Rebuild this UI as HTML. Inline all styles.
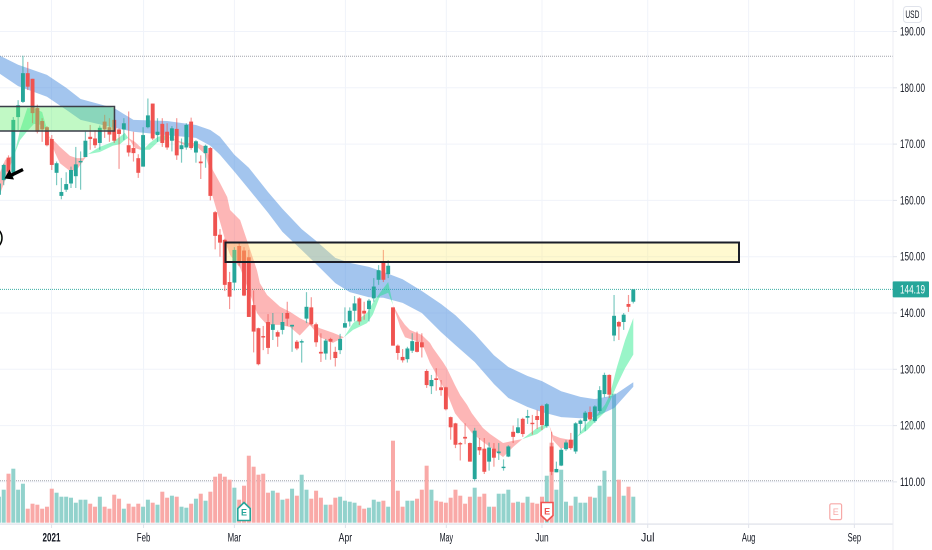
<!DOCTYPE html>
<html lang="en">
<head>
<meta charset="utf-8">
<title>USD price chart</title>
<style>
html,body{margin:0;padding:0;background:#fff;}
#chart{display:block;width:932px;height:550px;font-family:"Liberation Sans",sans-serif;filter:blur(0.35px);}
</style>
</head>
<body>
<svg id="chart" xmlns="http://www.w3.org/2000/svg" width="932" height="550" viewBox="0 0 932 550">
  <defs><clipPath id="plot-clip"><rect x="0" y="0" width="892.5" height="524"/></clipPath></defs>
  <rect x="0" y="0" width="932" height="550" fill="#ffffff"/>
  <g id="grid"></g>
  <g id="levels"></g>
  <g clip-path="url(#plot-clip)">
    <g id="volume"></g>
    <g id="bands"></g>
    <g id="candles"></g>
    <rect x="-3" y="106.5" width="117.5" height="24.5" fill="rgba(100,240,110,0.4)" stroke="#3a3d48" stroke-width="1.5"/>
    <rect x="225.5" y="242.5" width="513.5" height="19.5" fill="rgba(255,235,100,0.3)" stroke="#1a1d28" stroke-width="2"/>
    <g>
      <line x1="23" y1="169.5" x2="10" y2="175.8" stroke="#000" stroke-width="3.4"/>
      <polygon points="4.5,178.5 9.5,169.5 14,179.5" fill="#000"/>
    </g>
    <circle cx="-9.5" cy="238" r="11.5" fill="rgba(150,250,150,0.15)" stroke="#000" stroke-width="1.5"/>
  </g>
  <g id="earnings">
    <g>
      <polygon points="237.8,508.5 244,502.5 250.2,508.5 250.2,520.5 237.8,520.5" fill="#fff" stroke="#26a69a" stroke-width="1.6"/>
      <text x="244" y="515.5" font-size="9" font-weight="bold" fill="#26a69a" text-anchor="middle">E</text>
    </g>
    <g>
      <polygon points="541.2,502.5 553,502.5 553,515.5 547.1,521 541.2,515.5" fill="#fff" stroke="#ef5350" stroke-width="1.6"/>
      <text x="547.1" y="514.5" font-size="9" font-weight="bold" fill="#ef5350" text-anchor="middle">E</text>
    </g>
    <g>
      <rect x="829.8" y="503.8" width="11.8" height="15.8" rx="1.5" fill="#fff" stroke="#f7a9a7" stroke-width="1.2"/>
      <text x="835.7" y="515" font-size="9" fill="#f7a9a7" text-anchor="middle">E</text>
    </g>
  </g>
  <g id="axes"></g>
  <g>
    <rect x="903.5" y="6.5" width="18" height="16" rx="3" fill="#fff" stroke="#e0e3eb"/>
    <text x="905.4" y="18.2" font-size="11" fill="#131722" textLength="14" lengthAdjust="spacingAndGlyphs">USD</text>
  </g>
</svg>
<script>
// ---- chart data ----
const priceTicks = [190, 180, 170, 160, 150, 140, 130, 120, 110];
const timeLabels = ['2021', 'Feb', 'Mar', 'Apr', 'May', 'Jun', 'Jul', 'Aug', 'Sep'];
// bar position of each time tick (trading-bar index, extended past the last bar)
const timeTickBars = [10.95, 30.1, 49.0, 72.1, 93.1, 113, 135, 156, 178];
const lastPrice = 144.19;
const seriesHigh = 185.6;
const seriesLow = 110.2;

const opens = [
161,163.6,167.6,164.9,174.8,177.5,182.6,181.6,176.4,174.1,
173,170.9,164.9,160.8,161.9,163,164.3,166.8,167.7,171.3,
171,170.2,174,173,174.3,172.6,172.6,169.8,169.3,167.5,
166,173,177.2,171.6,173.6,172.2,170.6,172.7,169.1,169.4,
174,168.5,166.9,168.4,169.3,157.9,153.9,153,145.5,145.4,
151.9,151.1,149.9,141.4,137.3,135.9,138.4,137,136.6,137,
140,137.6,134.9,134.8,139,141,138,133.1,132.8,135.4,
133.1,133.4,137.4,138.5,140.4,142.6,140.4,140.7,142.6,145.9,
149.1,146.9,141,134.2,132.2,131.8,133.3,134.9,134.8,129.7,
127,128.4,126.8,126.8,121.5,120.4,116.9,118,116.9,110.5,
116.2,115.9,113.6,115.9,115.1,112.5,114.5,118.9,118.7,121.2,
121.4,120.5,121.7,123.5,119.9,116.3,111.7,112.9,115.8,117.5,
115.4,120.3,120.8,122.4,120.8,122.6,125.6,129,136,138.4,
138.4,141.6,142];
const highs = [
164,166.5,168,174.8,177.8,185.7,184.6,181.6,177,174.6,
173.2,171.6,166.9,164,165,166,169.5,168.7,172.2,173.4,
172.5,173.3,175.2,174.6,176.7,172.8,174.6,175.8,172.2,168.2,
173,178.1,177.2,174.6,174.6,173.7,173.2,174.6,171,173.7,
174.7,170.7,168,169.9,169.5,158.1,154.9,153.2,147.3,151.7,
152.4,151.7,151.2,144,137.4,137.7,139.8,140,136.9,140,
142,137.9,135.2,135.3,143.7,142.8,138.3,136.4,135.4,135.6,
134,136.3,141,141,143,142.8,142,142.5,146.2,148.5,
151.2,149.4,141,134.4,133.6,134,136.4,136.7,136.4,130,
129,130.2,128.1,126.9,121.6,120.5,117.1,120.4,117,119.6,
117.8,117.8,117,116.9,116.9,114,116.5,120,121.3,121.4,
122.8,121.9,122.8,123.7,124,118.9,113.6,116,117.4,118.7,
120.6,121.1,122.6,123.4,123.6,127,129.4,129.1,143.2,138.6,
140,143.2,144.2];
const lows = [
160,162.7,164.8,164.2,172.5,177.3,179.6,173.7,171.9,170.4,
169.6,165.4,162.7,160.2,161.5,162.2,162.2,161.9,167.7,169,
169.3,169,171.1,170.4,170.2,165.6,170.7,167.8,166.9,164,
166,172.8,170.7,170.4,169.5,169,168.7,167.2,166.7,169,
169,166.7,163.8,165.8,160,151.3,150,143.9,140.7,144,
148.4,143,139.3,133,130.7,133.4,132.7,135.2,134,136.2,
137.7,133.1,133.4,131.2,138.2,137.8,134,131.3,131.7,131.7,
130.5,132.7,137.4,137.6,138.5,137.9,138.8,138.5,142,145,
145.5,146.2,134.2,131.7,131.2,131.2,132.9,133,132.1,126.7,
125.6,126.2,125.3,122.7,117.5,116,113.8,116.7,113.6,110.2,
114.8,111.4,112,112.7,113.9,112,114.4,116.9,118.6,118,
120.3,118.4,119.4,119.2,119.6,111.2,111.7,112.8,115.5,115.7,
115,118.7,119,120.8,120.5,122.3,125,124.9,135,135.2,
137,140.2,141.7];
const closes = [
163,166.3,165.1,174.3,176.9,182.6,180.2,175.5,172.2,172.6,
169.8,166.3,166.6,161.5,162.9,165.4,166.4,167,170.6,170.9,
169.8,172.9,172.6,171.7,170.6,171.8,173.7,168.5,168.4,164.9,
171.6,175.1,171,172.2,170.2,169.4,172.8,168,169.8,173.4,
169.3,170.5,166.6,169.7,160.8,153.7,152.5,145,142.9,151.2,
148.9,143.1,139.3,136.7,130.9,135.7,133.8,138,135.8,138.4,
139,137.9,133.7,135,141.1,138,134.8,132.8,135.1,134.9,
132,135.4,138.2,140.4,141.7,138.5,139.9,142.2,144.7,147.6,
145.9,148.4,134.2,132.9,131.6,133.7,135,133.1,133.9,127.2,
128.1,128.1,126.3,122.9,119.7,116.6,116.7,117.7,113.6,119.1,
115.6,111.8,116.1,114.3,115.4,112.7,116.3,118,119.7,118.5,
121.7,120.3,121,120.1,123.8,111.8,112.3,115.7,117,116,
120.4,120.9,122.3,121.1,123.4,126.3,129,125.5,139.5,137.6,
139.7,141.1,144.19];
const volumes = [
26,33,49,54,33,39,14,19,18,14,
16,34,30,26,26,25,20,23,23,19,
16,26,16,14,28,24,14,19,16,19,
16,23,20,18,31,25,27,26,16,15,
19,24,29,22,31,46,49,46,43,35,
23,37,67,56,48,49,30,32,30,23,
24,34,27,48,33,24,32,25,18,18,
25,26,22,21,20,17,14,15,23,21,
22,16,82,32,16,22,22,24,33,57,
33,22,21,20,25,33,27,19,26,35,
26,29,16,16,29,29,33,20,21,20,
26,20,19,26,47,80,33,53,21,17,
26,20,20,26,25,37,52,26,129,43,
27,36,26];

// long-term moving-average ribbon (sampled bars)
const ribbonBars = [0,4,10,14,17,24,28,35,41,44,46,49,52,56,59,63,66,70,73,77,80,84,88,92,95,99,103,106,110,113,117,121,124,128,132];
const ribbonUpper = [185.8,184.1,182.3,180,178,176.4,174.3,174.1,173.4,172.5,171.3,168.1,165.8,161.5,158.5,154.9,152.8,149.8,148.9,148.2,147.3,146,143.9,141.6,139.6,136.3,132.5,130.4,128.8,127.9,126.1,125.1,124.7,125.4,127.7];
const ribbonLower = [182.6,180.3,178.4,176.1,174.3,172.9,172.2,171.6,171.1,169.7,168.1,165.1,162,157.8,154.4,151.2,148.7,145.3,143.7,142.8,142.7,141.8,140,136.6,134.3,131.3,127.4,124.9,123.3,122.4,121.5,121.3,121.5,123.1,126.9];

// short-term moving averages (sampled bars): green where fast > slow, red otherwise
const maBars = [0,1.3,3.2,4.4,5.9,7.3,9,10.4,11.7,12.7,14.8,16.2,17.5,18.5,21,23.7,25.2,26.2,26.9,28.3,29.4,30,31.4,33.1,34.6,35.6,38.7,41.2,42.9,43.9,44.5,46,47.5,48.1,50.2,52.3,53.7,54.3,55.8,58.5,60.6,62.6,64.7,66.8,69.5,71.8,73.7,76.6,77.8,79.3,81,82,83.5,84.5,85.5,88,89.7,90.3,92.4,93.2,94.9,96,97.4,98.4,100.7,102.2,104.9,107,108.9,112,114,114.5,115.3,116.8,119.3,120.3,122.4,124.4,126.1,127.1,128.6,130.3,132];
const maFast = [160.6,163.6,168.1,172.5,176.4,176.4,175.7,171.4,168.4,166.6,165.2,165.4,167,168.2,169.5,170.4,171.3,172,171.1,169.3,169,169,170.2,171.3,171.6,171.1,169.8,169.5,168.2,165.4,160.6,156.2,151.7,150.3,148,143.2,140,139.3,137.9,137.9,137.5,136,137.9,135.7,134.7,135.7,138.2,140,141.8,143.6,145.5,141.4,137.5,135.7,135.4,134.7,131.1,130.2,126.9,125.8,122.2,121,119.8,118.7,117.1,116.2,114.4,116.2,117.6,119.6,120.3,120.1,117.4,116,116,118,120.5,121.9,123.7,125.4,130.4,135.2,139.1];
const maSlow = [164.5,167.2,168.1,170.7,172.3,173.6,173.4,171.4,170.4,169.5,167.9,167.5,167.5,168.2,168.6,169.7,170,170.7,171.1,170.4,169.5,169,169,170.4,170.7,171.1,170.2,170.2,169.5,167.5,165.4,163.1,160.6,158.3,156.5,151.2,147.6,145.3,143.2,141.1,140.2,139.1,138.2,137.3,136.5,135.7,137,138.2,139.7,143,143.6,141.4,139.1,137.9,137,136.1,134.7,133.8,131.3,130.2,127.2,125.4,123.7,122.2,119.6,118.5,116.9,117.3,117.6,118.5,119.8,120.1,118.3,117.8,117.4,118,119.2,121,122.4,124.2,127.2,130.2,132.6];

// ---- axis functions ----
const barOrigin = -1.1, barStep = 4.806;
const priceRef = 190, priceRefY = 31.5, pxPerUnit = 5.63;
const volBase = 522.7, volPx = 1;
function xAt(bar){ return barOrigin + bar * barStep; }
function yAt(price){ return priceRefY + (priceRef - price) * pxPerUnit; }
function volY(v){ return volBase - v * volPx; }

const NS = 'http://www.w3.org/2000/svg';
function mk(tag, parent){
  const el = document.createElementNS(NS, tag);
  parent.appendChild(el);
  return el;
}
function attrs(el, o){ for (const k in o) el.setAttribute(k, o[k]); return el; }

const gGrid = document.getElementById('grid');
const gLevels = document.getElementById('levels');
const gVol = document.getElementById('volume');
const gBands = document.getElementById('bands');
const gCandles = document.getElementById('candles');
const gAxes = document.getElementById('axes');

const GREEN = '#26a69a', RED = '#ef5350';

// ---- grid ----
priceTicks.forEach(function(p){
  const l = mk('line', gGrid);
  
  
  attrs(l, {x1:0, x2:892.5, y1:yAt(p), y2:yAt(p), stroke:'#f0f3fa', 'stroke-width':1});
});
timeTickBars.forEach(function(b){
  const l = mk('line', gGrid);
  
  
  attrs(l, {x1:xAt(b), x2:xAt(b), y1:0, y2:524, stroke:'#f0f3fa', 'stroke-width':1});
});

// ---- dotted levels ----
[[seriesHigh,'#9598a1','series-high-line'],[seriesLow,'#9598a1','series-low-line'],[lastPrice,GREEN,'last-price-line']].forEach(function(d){
  const l = mk('line', gLevels);
  
  
  attrs(l, {x1:0, x2:892.5, y1:yAt(d[0]), y2:yAt(d[0]), stroke:d[1], 'stroke-width':1, 'stroke-dasharray':'1 1', opacity:0.9});
});

// ---- volume ----
volumes.forEach(function(v, i){
  const r = mk('rect', gVol);
  
  
  attrs(r, {x:xAt(i)-2, width:4, y:volY(v), height:v*volPx,
    fill: closes[i] >= opens[i] ? '#92d2cc' : '#f9a9a7'});
});

// ---- long-term ribbon ----
(function(){
  const pts = [];
  ribbonBars.forEach(function(b, k){ pts.push(xAt(b)+','+yAt(ribbonUpper[k])); });
  for (let k = ribbonBars.length-1; k >= 0; k--) pts.push(xAt(ribbonBars[k])+','+yAt(ribbonLower[k]));
  const p = mk('polygon', gBands);
  
  
  attrs(p, {points:pts.join(' '), fill:'rgba(72,140,222,0.5)'});
})();

// ---- short-term ribbon, split at each crossing ----
(function(){
  let start = 0;
  function emit(a, b){
    let up = 0;
    for (let k = a; k <= b; k++) up += maFast[k] - maSlow[k];
    const pts = [];
    for (let k = a; k <= b; k++) pts.push(xAt(maBars[k])+','+yAt(maFast[k]));
    for (let k = b; k >= a; k--) pts.push(xAt(maBars[k])+','+yAt(maSlow[k]));
    const p = mk('polygon', gBands);
    
    
    attrs(p, {points:pts.join(' '), fill: up > 0 ? 'rgba(0,230,118,0.4)' : 'rgba(250,82,82,0.42)'});
  }
  for (let k = 1; k < maBars.length; k++){
    if (maFast[k] === maSlow[k] || k === maBars.length-1){ emit(start, k); start = k; }
  }
})();

// ---- candles ----
closes.forEach(function(c, i){
  const col = c >= opens[i] ? GREEN : RED;
  const x = xAt(i);
  const w = mk('line', gCandles);
  
  
  attrs(w, {x1:x, x2:x, y1:yAt(highs[i]), y2:yAt(lows[i]), stroke:col, 'stroke-width':1.2, 'stroke-opacity':0.6});
  const top = Math.min(yAt(opens[i]), yAt(c));
  const h = Math.max(1.4, Math.abs(yAt(opens[i]) - yAt(c)));
  const b = mk('rect', gCandles);
  
  
  attrs(b, {x:x-1.95, width:3.9, y:top, height:h, fill:col});
});

// ---- axes ----
(function(){
  const tl = mk('rect', gAxes);
  
  
  attrs(tl, {x:0, y:523.3, width:893, height:1.6, fill:'#e6e8ee'});
  const pl = mk('line', gAxes);
  
  
  attrs(pl, {x1:893, x2:893, y1:0, y2:550, stroke:'#eceef3', 'stroke-width':1});

  priceTicks.forEach(function(p){
    const m = mk('line', gAxes);
    
    
    attrs(m, {x1:893, x2:897, y1:yAt(p), y2:yAt(p), stroke:'#e0e3eb'});
    const t = mk('text', gAxes);
    
    
    attrs(t, {x:900, y:yAt(p)+4, 'font-size':11.5, fill:'#131722', textLength:25, lengthAdjust:'spacingAndGlyphs'});
    t.textContent = p.toFixed(2);
  });

  timeLabels.forEach(function(lbl, i){
    const x = xAt(timeTickBars[i]);
    const m = mk('line', gAxes);
    
    
    attrs(m, {x1:x, x2:x, y1:524, y2:528, stroke:'#e0e3eb'});
    const t = mk('text', gAxes);
    
    
    const bold = lbl === '2021';
    attrs(t, {x:x, y:541.5, 'font-size':11.5, fill:'#131722', 'text-anchor':'middle',
      textLength: bold ? 18 : 13.5, lengthAdjust:'spacingAndGlyphs', 'font-weight': bold ? 'bold' : 'normal'});
    t.textContent = lbl;
  });

  const py = yAt(lastPrice);
  const r = mk('rect', gAxes);
  
  
  attrs(r, {x:892.7, y:py-8, width:36.3, height:16, rx:1, fill:GREEN});
  const t = mk('text', gAxes);
  
  
  attrs(t, {x:900, y:py+4, 'font-size':11.5, fill:'#fff', textLength:25, lengthAdjust:'spacingAndGlyphs'});
  t.textContent = lastPrice.toFixed(2);
})();
</script>
</body>
</html>
